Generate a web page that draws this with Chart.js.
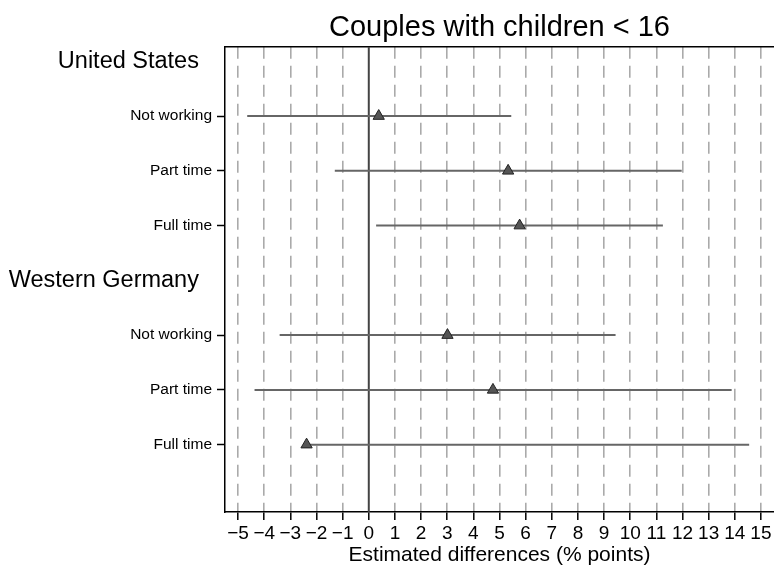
<!DOCTYPE html>
<html>
<head>
<meta charset="utf-8">
<style>
  html, body { margin: 0; padding: 0; background: #fff; }
  #wrap { width: 774px; height: 566px; }
</style>
<script src="https://cdn.jsdelivr.net/npm/chart.js@4/dist/chart.umd.min.js"></script>
</head>
<body>
<div id="wrap"><canvas id="chart-coef"></canvas></div>
<script>
// data
var groups = ["United States", "Western Germany"];
var categories = ["Not working", "Part time", "Full time"];
var estimates = [[0.38, 5.33, 5.77], [3.01, 4.75, -2.38]];
var lowerCI = [[-4.65, -1.30, 0.28], [-3.41, -4.37, -2.30]];
var upperCI = [[5.45, 11.97, 11.25], [9.44, 13.88, 14.55]];
var xTicks = [-5, -4, -3, -2, -1, 0, 1, 2, 3, 4, 5, 6, 7, 8, 9, 10, 11, 12, 13, 14, 15];
var refLine = 0;

var yMin = 0.735, yMax = 9.23;
var headerPos = [];
var rowLabels = {};
var points = [];
var datasets = [];

groups.forEach(function (g, gi) {
    var hp = 1 + gi * (categories.length + 1);
    headerPos.push(hp);
    rowLabels[hp] = g + "  ";
    categories.forEach(function (c, ci) {
        var y = hp + 1 + ci;
        rowLabels[y] = c;
        points.push({x: estimates[gi][ci], y: y});
        datasets.push({
            type: 'line',
            data: [{x: lowerCI[gi][ci], y: y}, {x: upperCI[gi][ci], y: y}],
            borderColor: '#666',
            borderWidth: 2,
            pointRadius: 0,
            order: 2
        });
    });
});

datasets.push({
    type: 'line',
    data: [{x: refLine, y: yMin}, {x: refLine, y: yMax}],
    borderColor: '#444',
    borderWidth: 2,
    pointRadius: 0,
    order: 3
});
datasets.push({
    type: 'scatter',
    data: points,
    pointStyle: 'triangle',
    pointRadius: 6.5,
    backgroundColor: '#555',
    borderColor: '#222',
    borderWidth: 1,
    order: 0
});

var yTickVals = Object.keys(rowLabels).map(Number);
var isHeader = function (v) { return headerPos.indexOf(v) >= 0; };

Chart.defaults.font.family = "'Liberation Sans', Arial, Helvetica, sans-serif";
Chart.defaults.color = '#000';

new Chart(document.getElementById("chart-coef"), {
    type: 'scatter',
    data: {datasets: datasets},
    options: {
        responsive: true,
        maintainAspectRatio: false,
        animation: false,
        layout: {padding: 0, autoPadding: false},
        plugins: {
            legend: {display: false},
            tooltip: {enabled: false},
            title: {
                display: true,
                fullSize: false,
                text: "Couples with children < 16",
                color: '#000',
                font: {size: 29, weight: 'normal', lineHeight: 1.2},
                padding: {top: 11, bottom: 1}
            }
        },
        scales: {
            x: {
                type: 'linear',
                min: -5.5,
                max: 15.5,
                afterBuildTicks: function (scale) {
                    scale.ticks = xTicks.map(function (v) { return {value: v}; });
                },
                afterFit: function (scale) {
                    scale.height = 54;
                    scale.paddingLeft = 0;
                    scale.paddingRight = 0;
                },
                ticks: {
                    padding: 2,
                    color: '#000',
                    font: {size: 19},
                    maxRotation: 0,
                    autoSkip: false,
                    callback: function (v) { return v < 0 ? '\u2212' + Math.abs(v) : String(v); }
                },
                grid: {
                    color: function (ctx) { return ctx.tick && ctx.tick.value === refLine ? 'rgba(0,0,0,0)' : '#aaa'; },
                    lineWidth: 1.6,
                    tickColor: '#000',
                    tickLength: 8,
                    tickWidth: 1.5
                },
                border: {display: true, color: '#000', width: 1.5, dash: [12, 7]},
                title: {
                    display: true,
                    text: "Estimated differences (% points)",
                    color: '#000',
                    font: {size: 21, lineHeight: 1},
                    padding: {top: 0, bottom: 0}
                }
            },
            xTop: {
                type: 'linear',
                position: 'top',
                min: -5.5,
                max: 15.5,
                afterFit: function (scale) {
                    scale.paddingLeft = 0;
                    scale.paddingRight = 0;
                },
                ticks: {display: false},
                grid: {display: false, drawTicks: false},
                border: {display: true, color: '#000', width: 1.5}
            },
            y: {
                type: 'linear',
                reverse: true,
                min: yMin,
                max: yMax,
                afterBuildTicks: function (scale) {
                    scale.ticks = yTickVals.map(function (v) { return {value: v}; });
                },
                afterFit: function (scale) { scale.width = 225; },
                ticks: {
                    padding: 5,
                    color: '#000',
                    autoSkip: false,
                    font: function (ctx) {
                        return {size: ctx.tick && isHeader(ctx.tick.value) ? 23.5 : 15.5};
                    },
                    callback: function (v) { return rowLabels[v]; }
                },
                grid: {
                    drawOnChartArea: false,
                    tickLength: 8,
                    tickWidth: 1.5,
                    tickColor: function (ctx) { return ctx.tick && isHeader(ctx.tick.value) ? 'rgba(0,0,0,0)' : '#000'; }
                },
                border: {display: true, color: '#000', width: 1.5}
            }
        }
    }
});
</script>
</body>
</html>
